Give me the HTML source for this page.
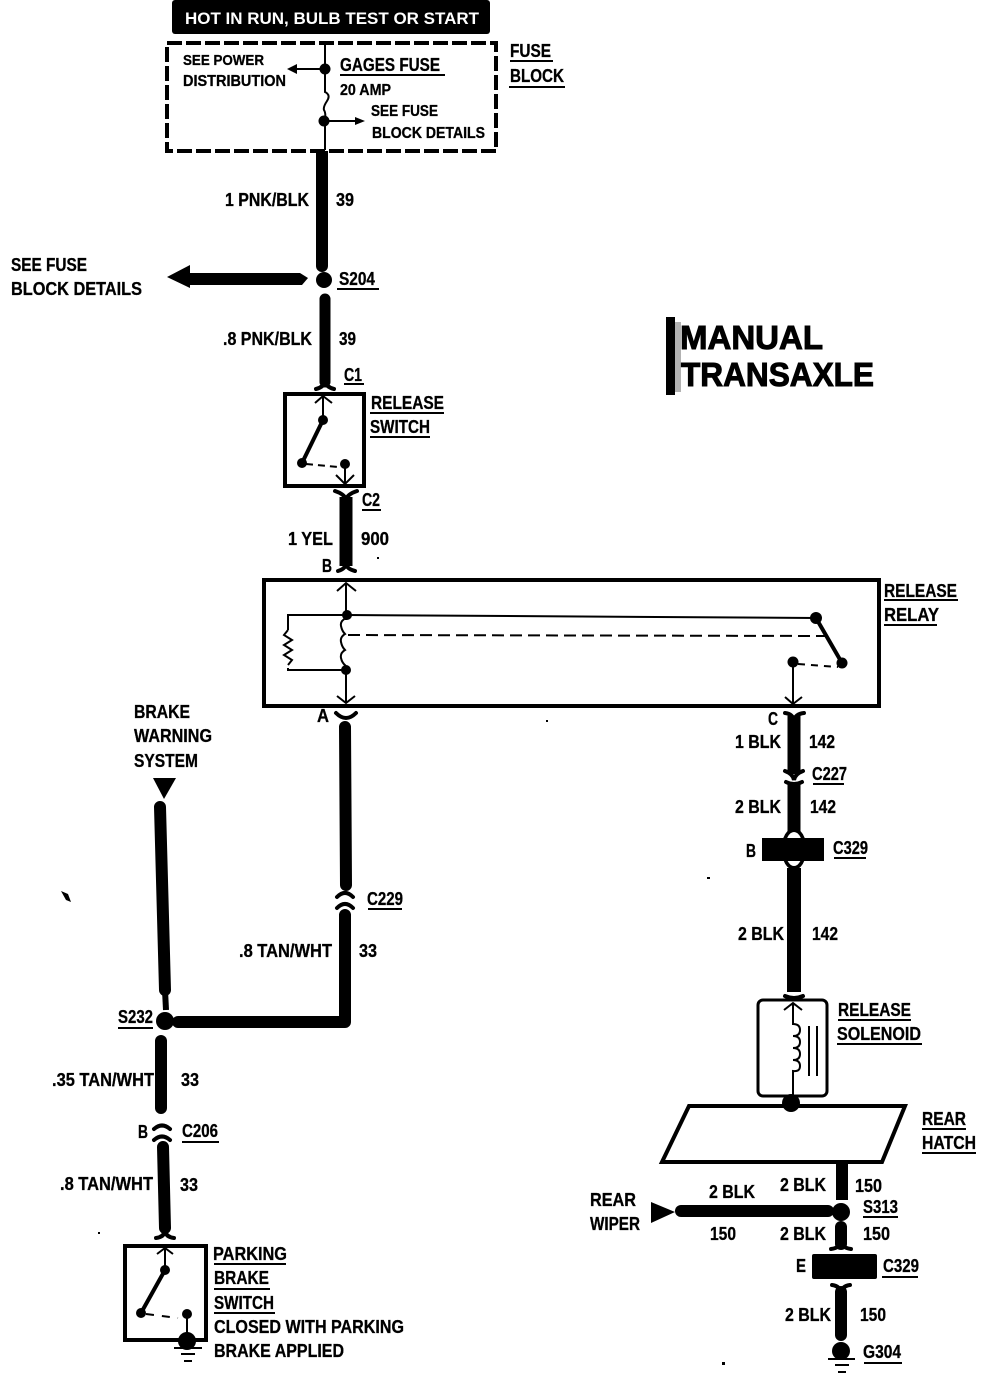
<!DOCTYPE html>
<html><head><meta charset="utf-8"><style>
html,body{margin:0;padding:0;background:#fff}
svg{display:block}
text{font-family:"Liberation Sans",sans-serif;font-weight:bold;font-size:18px;fill:#000;stroke:#000;stroke-width:.3}
.w{stroke:#000;fill:none;stroke-linecap:round}
.t{stroke:#000;fill:none;stroke-width:2}
.c{stroke:#000;fill:none;stroke-width:4;stroke-linecap:round}
.u{stroke:#000;stroke-width:2}
</style></head><body>
<svg width="992" height="1376" viewBox="0 0 992 1376" xmlns="http://www.w3.org/2000/svg">
<rect width="992" height="1376" fill="#fff"/>
<!-- header -->
<rect x="172" y="0" width="318" height="34" rx="3" fill="#000"/>
<text x="185" y="24" textLength="294" lengthAdjust="spacingAndGlyphs" style="fill:#fff;stroke:none;font-size:17px">HOT IN RUN, BULB TEST OR START</text>
<!-- fuse block -->
<rect x="167" y="43" width="329" height="108" fill="none" stroke="#000" stroke-width="4" stroke-dasharray="15 4"/>
<path class="t" d="M325 43V92q6 3 2 9t-3 9q2 3 1 10V150" stroke-width="3"/>
<circle cx="325" cy="69" r="5.5"/><circle cx="324" cy="121" r="5.5"/>
<path class="t" d="M325 69H295"/><path d="M287 69l10-5v10z"/>
<path class="t" d="M325 121H358"/><path d="M365 121l-10-4v8z"/>
<text x="183" y="65" textLength="81" lengthAdjust="spacingAndGlyphs" style="font-size:15px">SEE POWER</text>
<text x="183" y="86" textLength="103" lengthAdjust="spacingAndGlyphs" style="font-size:16px">DISTRIBUTION</text>
<text x="340" y="71" textLength="100" lengthAdjust="spacingAndGlyphs">GAGES FUSE</text>
<line class="u" x1="340" y1="75" x2="445" y2="75"/>
<text x="340" y="95" textLength="51" lengthAdjust="spacingAndGlyphs" style="font-size:16px">20 AMP</text>
<text x="371" y="116" textLength="67" lengthAdjust="spacingAndGlyphs" style="font-size:16px">SEE FUSE</text>
<text x="372" y="138" textLength="113" lengthAdjust="spacingAndGlyphs" style="font-size:16px">BLOCK DETAILS</text>
<text x="510" y="57" textLength="41" lengthAdjust="spacingAndGlyphs">FUSE</text>
<line class="u" x1="510" y1="61" x2="553" y2="61"/>
<text x="510" y="82" textLength="54" lengthAdjust="spacingAndGlyphs">BLOCK</text>
<line class="u" x1="509" y1="87" x2="565" y2="87"/>
<!-- top wire -->
<path stroke="#000" stroke-width="12" fill="none" d="M322 151V262"/>
<path class="w" stroke-width="12" d="M322 255V266"/>
<circle cx="324" cy="280" r="8"/>
<path d="M167 277L190 265V273H300L308 278L302 285H190V288z"/>
<text x="225" y="206" textLength="84" lengthAdjust="spacingAndGlyphs">1 PNK/BLK</text>
<text x="336" y="206" textLength="18" lengthAdjust="spacingAndGlyphs">39</text>
<text x="11" y="271" textLength="76" lengthAdjust="spacingAndGlyphs">SEE FUSE</text>
<text x="11" y="295" textLength="131" lengthAdjust="spacingAndGlyphs">BLOCK DETAILS</text>
<text x="339" y="285" textLength="36" lengthAdjust="spacingAndGlyphs">S204</text>
<line class="u" x1="337" y1="289" x2="379" y2="289"/>
<path class="w" stroke-width="11" d="M325 299V382"/>
<text x="223" y="345" textLength="89" lengthAdjust="spacingAndGlyphs">.8 PNK/BLK</text>
<text x="339" y="345" textLength="17" lengthAdjust="spacingAndGlyphs">39</text>
<text x="344" y="381" textLength="18" lengthAdjust="spacingAndGlyphs">C1</text>
<line class="u" x1="344" y1="384" x2="364" y2="384"/>
<path class="c" d="M316 389q8-2 9-8q1 6 9 8"/>
<!-- release switch -->
<rect x="285" y="394" width="79" height="92" fill="none" stroke="#000" stroke-width="4"/>
<path class="t" d="M323 396V420" stroke-width="3"/><path class="t" stroke-width="3" d="M315 403l8-7 9 7"/>
<path class="w" stroke-width="4" d="M323 420L302 463"/>
<circle cx="323" cy="420" r="5"/><circle cx="302" cy="463" r="5"/><circle cx="345" cy="464" r="5"/>
<path class="t" d="M306 464L338 467" stroke-dasharray="7 5"/>
<path class="t" stroke-width="3" d="M345 464V484M336 475l9 9 9-9"/>
<text x="371" y="409" textLength="73" lengthAdjust="spacingAndGlyphs">RELEASE</text>
<line class="u" x1="370" y1="413" x2="444" y2="413"/>
<text x="370" y="433" textLength="60" lengthAdjust="spacingAndGlyphs">SWITCH</text>
<line class="u" x1="370" y1="437" x2="430" y2="437"/>
<path class="c" d="M335 491q9 3 11 8q2-5 11-8"/>
<text x="362" y="506" textLength="18" lengthAdjust="spacingAndGlyphs">C2</text>
<line class="u" x1="362" y1="510" x2="381" y2="510"/>
<path stroke="#000" stroke-width="13" d="M346 497V566"/>
<path class="c" d="M338 571q7-2 8-7q1 5 9 7"/>
<text x="288" y="545" textLength="45" lengthAdjust="spacingAndGlyphs">1 YEL</text>
<text x="361" y="545" textLength="28" lengthAdjust="spacingAndGlyphs">900</text>
<text x="322" y="572" textLength="10" lengthAdjust="spacingAndGlyphs">B</text>
<!-- relay -->
<rect x="264" y="580" width="615" height="126" fill="none" stroke="#000" stroke-width="4"/>
<path class="t" stroke-width="2.5" d="M346 583V702M337 591l9-8 10 8M337 696l9 7 9-7"/>
<path d="M346 620h-3v48h6v-48z" fill="#fff"/>
<path class="t" stroke-width="3" d="M346 618q-6 3-5 8t4 8q-5 3-4 8t4 8q-5 3-4 8t5 8"/>
<circle cx="347" cy="615" r="5"/><circle cx="346" cy="670" r="5"/>
<path class="t" stroke-width="3" d="M347 615L816 618"/>
<path class="t" stroke-width="2.5" d="M347 615H288V670H346"/>
<path d="M288 630h-2v38h4v-38z" fill="#fff"/>
<path class="t" d="M288 630l-4 5 8 5-8 5 8 5-8 5 8 5-4 5"/>
<path class="t" stroke-dasharray="12 6" stroke-width="2.5" d="M348 635L825 636"/>
<path class="w" stroke-width="4" d="M816 618L842 663"/>
<circle cx="816" cy="618" r="6"/><circle cx="842" cy="663" r="5.5"/><circle cx="793" cy="662" r="5.5"/>
<path class="t" stroke-dasharray="7 6" d="M798 664L838 667"/>
<path class="t" d="M793 662V703M785 697l8 7 9-7"/>
<text x="884" y="597" textLength="73" lengthAdjust="spacingAndGlyphs">RELEASE</text>
<line class="u" x1="884" y1="600" x2="958" y2="600"/>
<text x="884" y="621" textLength="55" lengthAdjust="spacingAndGlyphs">RELAY</text>
<line class="u" x1="884" y1="625" x2="937" y2="625"/>
<text x="317" y="722" textLength="12" lengthAdjust="spacingAndGlyphs">A</text>
<path class="c" d="M336 713q10 10 20 0"/>
<text x="768" y="725" textLength="10" lengthAdjust="spacingAndGlyphs">C</text>
<!-- right column -->
<path class="c" d="M785 713q8 1 9 8q1-7 10-8"/>
<path stroke="#000" stroke-width="13" d="M794 716V774"/>
<path class="c" d="M785 771q8 3 9 9q1-6 9-9"/>
<path class="c" d="M786 782q8 4 16 0" stroke-width="3"/>
<path stroke="#000" stroke-width="13" d="M794 784V832"/>
<ellipse cx="794" cy="849" rx="12.5" ry="21"/>
<ellipse cx="794" cy="849" rx="9" ry="17" fill="#fff"/>
<rect x="762" y="838" width="62" height="23"/>
<path stroke="#000" stroke-width="14" d="M794 868V992"/>
<path class="c" stroke-width="3" d="M785 996q9 4 18 0"/>
<text x="735" y="748" textLength="46" lengthAdjust="spacingAndGlyphs">1 BLK</text>
<text x="809" y="748" textLength="26" lengthAdjust="spacingAndGlyphs">142</text>
<text x="812" y="780" textLength="35" lengthAdjust="spacingAndGlyphs">C227</text>
<line class="u" x1="813" y1="784" x2="844" y2="784"/>
<text x="735" y="813" textLength="46" lengthAdjust="spacingAndGlyphs">2 BLK</text>
<text x="810" y="813" textLength="26" lengthAdjust="spacingAndGlyphs">142</text>
<text x="746" y="857" textLength="10" lengthAdjust="spacingAndGlyphs">B</text>
<text x="833" y="854" textLength="35" lengthAdjust="spacingAndGlyphs">C329</text>
<line class="u" x1="834" y1="858" x2="866" y2="858"/>
<text x="738" y="940" textLength="46" lengthAdjust="spacingAndGlyphs">2 BLK</text>
<text x="812" y="940" textLength="26" lengthAdjust="spacingAndGlyphs">142</text>
<!-- solenoid -->
<rect x="758" y="1000" width="69" height="96" rx="5" fill="none" stroke="#000" stroke-width="3"/>
<path class="t" stroke-width="3" d="M784 1010l9-7 9 7M793 1003V1024q7 0 7 6t-7 6q7 0 7 6t-7 6q7 0 7 6t-7 6q7 0 7 6t-7 5V1096"/>
<path class="t" d="M809 1026V1076M817 1026V1076"/>
<circle cx="791" cy="1103" r="9"/>
<text x="838" y="1016" textLength="73" lengthAdjust="spacingAndGlyphs">RELEASE</text>
<line class="u" x1="838" y1="1020" x2="911" y2="1020"/>
<text x="837" y="1040" textLength="84" lengthAdjust="spacingAndGlyphs">SOLENOID</text>
<line class="u" x1="837" y1="1044" x2="922" y2="1044"/>
<path d="M689 1106H905L882 1162H662Z" fill="none" stroke="#000" stroke-width="4"/>
<text x="922" y="1125" textLength="44" lengthAdjust="spacingAndGlyphs">REAR</text>
<line class="u" x1="922" y1="1129" x2="966" y2="1129"/>
<text x="922" y="1149" textLength="54" lengthAdjust="spacingAndGlyphs">HATCH</text>
<line class="u" x1="922" y1="1153" x2="976" y2="1153"/>
<path stroke="#000" stroke-width="12" d="M842 1163V1200"/>
<circle cx="841" cy="1212" r="9"/>
<path class="w" stroke-width="12" d="M681 1211H828"/>
<path d="M651 1202L675 1212L651 1223z"/>
<text x="590" y="1206" textLength="46" lengthAdjust="spacingAndGlyphs">REAR</text>
<text x="590" y="1230" textLength="50" lengthAdjust="spacingAndGlyphs">WIPER</text>
<text x="709" y="1198" textLength="46" lengthAdjust="spacingAndGlyphs">2 BLK</text>
<text x="710" y="1240" textLength="26" lengthAdjust="spacingAndGlyphs">150</text>
<text x="780" y="1191" textLength="46" lengthAdjust="spacingAndGlyphs">2 BLK</text>
<text x="855" y="1192" textLength="27" lengthAdjust="spacingAndGlyphs">150</text>
<text x="780" y="1240" textLength="46" lengthAdjust="spacingAndGlyphs">2 BLK</text>
<text x="863" y="1240" textLength="27" lengthAdjust="spacingAndGlyphs">150</text>
<text x="863" y="1213" textLength="35" lengthAdjust="spacingAndGlyphs">S313</text>
<line class="u" x1="863" y1="1217" x2="898" y2="1217"/>
<path class="w" stroke-width="12" d="M841 1227V1244"/>
<path class="c" d="M831 1249q9-1 10-8q1 7 10 8"/>
<rect x="812" y="1254" width="65" height="25" rx="2"/>
<text x="796" y="1272" textLength="10" lengthAdjust="spacingAndGlyphs">E</text>
<text x="883" y="1272" textLength="36" lengthAdjust="spacingAndGlyphs">C329</text>
<line class="u" x1="882" y1="1277" x2="918" y2="1277"/>
<path class="c" d="M832 1285q8 1 9 8q1-7 9-8"/>
<path class="w" stroke-width="12" d="M841 1292V1335"/>
<circle cx="841" cy="1351" r="9"/>
<path class="u" stroke-width="3" d="M828 1359H855M835 1365H849M838 1372H846"/>
<text x="785" y="1321" textLength="46" lengthAdjust="spacingAndGlyphs">2 BLK</text>
<text x="860" y="1321" textLength="26" lengthAdjust="spacingAndGlyphs">150</text>
<text x="863" y="1358" textLength="38" lengthAdjust="spacingAndGlyphs">G304</text>
<line class="u" x1="864" y1="1363" x2="902" y2="1363"/>
<!-- center to S232 -->
<path class="w" stroke-width="12" d="M345 727L346 885"/>
<path class="c" d="M337 897q8-8 16 0M337 908q8-8 16 0"/>
<path class="w" stroke-width="12" d="M345 915V1022H178" stroke-linejoin="round"/>
<circle cx="165" cy="1021" r="9"/>
<path class="w" stroke-width="12" d="M160 807L165 990"/>
<path stroke="#000" stroke-width="6" d="M165 990L166 1010"/>
<path d="M153 778H176L164 799z"/>
<text x="134" y="718" textLength="56" lengthAdjust="spacingAndGlyphs">BRAKE</text>
<text x="134" y="742" textLength="78" lengthAdjust="spacingAndGlyphs">WARNING</text>
<text x="134" y="767" textLength="64" lengthAdjust="spacingAndGlyphs">SYSTEM</text>
<text x="367" y="905" textLength="36" lengthAdjust="spacingAndGlyphs">C229</text>
<line class="u" x1="368" y1="909" x2="402" y2="909"/>
<text x="239" y="957" textLength="93" lengthAdjust="spacingAndGlyphs">.8 TAN/WHT</text>
<text x="359" y="957" textLength="18" lengthAdjust="spacingAndGlyphs">33</text>
<text x="118" y="1023" textLength="35" lengthAdjust="spacingAndGlyphs">S232</text>
<line class="u" x1="118" y1="1028" x2="153" y2="1028"/>
<path class="w" stroke-width="12" d="M161 1041V1108"/>
<text x="52" y="1086" textLength="102" lengthAdjust="spacingAndGlyphs">.35 TAN/WHT</text>
<text x="181" y="1086" textLength="18" lengthAdjust="spacingAndGlyphs">33</text>
<path class="c" d="M154 1129q8-7 16 0M154 1140q8-7 16 0"/>
<text x="138" y="1138" textLength="10" lengthAdjust="spacingAndGlyphs">B</text>
<text x="182" y="1137" textLength="36" lengthAdjust="spacingAndGlyphs">C206</text>
<line class="u" x1="182" y1="1142" x2="219" y2="1142"/>
<path class="w" stroke-width="12" d="M163 1147L165 1228"/>
<text x="60" y="1190" textLength="93" lengthAdjust="spacingAndGlyphs">.8 TAN/WHT</text>
<text x="180" y="1191" textLength="18" lengthAdjust="spacingAndGlyphs">33</text>
<path class="c" d="M156 1238q8-1 9-7q1 6 9 7"/>
<!-- parking switch -->
<rect x="125" y="1246" width="81" height="94" fill="none" stroke="#000" stroke-width="4"/>
<path class="t" stroke-width="3" d="M157 1254l8-6 8 6M165 1248V1270"/>
<path class="w" stroke-width="4" d="M165 1270L141 1313"/>
<circle cx="165" cy="1270" r="5"/><circle cx="141" cy="1313" r="5"/><circle cx="187" cy="1314" r="5"/>
<path class="t" stroke-dasharray="8 8" d="M146 1314L178 1318"/>
<path class="t" stroke-width="3" d="M187 1314V1335"/>
<circle cx="187" cy="1341" r="9"/>
<path class="u" stroke-width="3" d="M174 1348H202M181 1354H195M184 1361H192"/>
<text x="213" y="1260" textLength="74" lengthAdjust="spacingAndGlyphs">PARKING</text>
<line class="u" x1="214" y1="1264" x2="286" y2="1264"/>
<text x="214" y="1284" textLength="55" lengthAdjust="spacingAndGlyphs">BRAKE</text>
<line class="u" x1="214" y1="1289" x2="270" y2="1289"/>
<text x="214" y="1309" textLength="60" lengthAdjust="spacingAndGlyphs">SWITCH</text>
<line class="u" x1="214" y1="1313" x2="275" y2="1313"/>
<text x="214" y="1333" textLength="190" lengthAdjust="spacingAndGlyphs">CLOSED WITH PARKING</text>
<text x="214" y="1357" textLength="130" lengthAdjust="spacingAndGlyphs">BRAKE APPLIED</text>
<!-- title -->
<rect x="666" y="317" width="9" height="78"/>
<rect x="675" y="322" width="6" height="70" fill="#000" opacity=".3"/>
<text x="680" y="349" textLength="143" lengthAdjust="spacingAndGlyphs" style="font-size:33px;stroke-width:1">MANUAL</text>
<text x="681" y="386" textLength="193" lengthAdjust="spacingAndGlyphs" style="font-size:33px;stroke-width:1">TRANSAXLE</text>
<!-- specks -->
<path d="M61 891l7 3 3 8-5-2zM546 720h2v2h-2zM707 877h3v2h-3zM722 1362h3v3h-3zM98 1232h2v2h-2zM377 557h2v2h-2z"/>
</svg>
</body></html>
